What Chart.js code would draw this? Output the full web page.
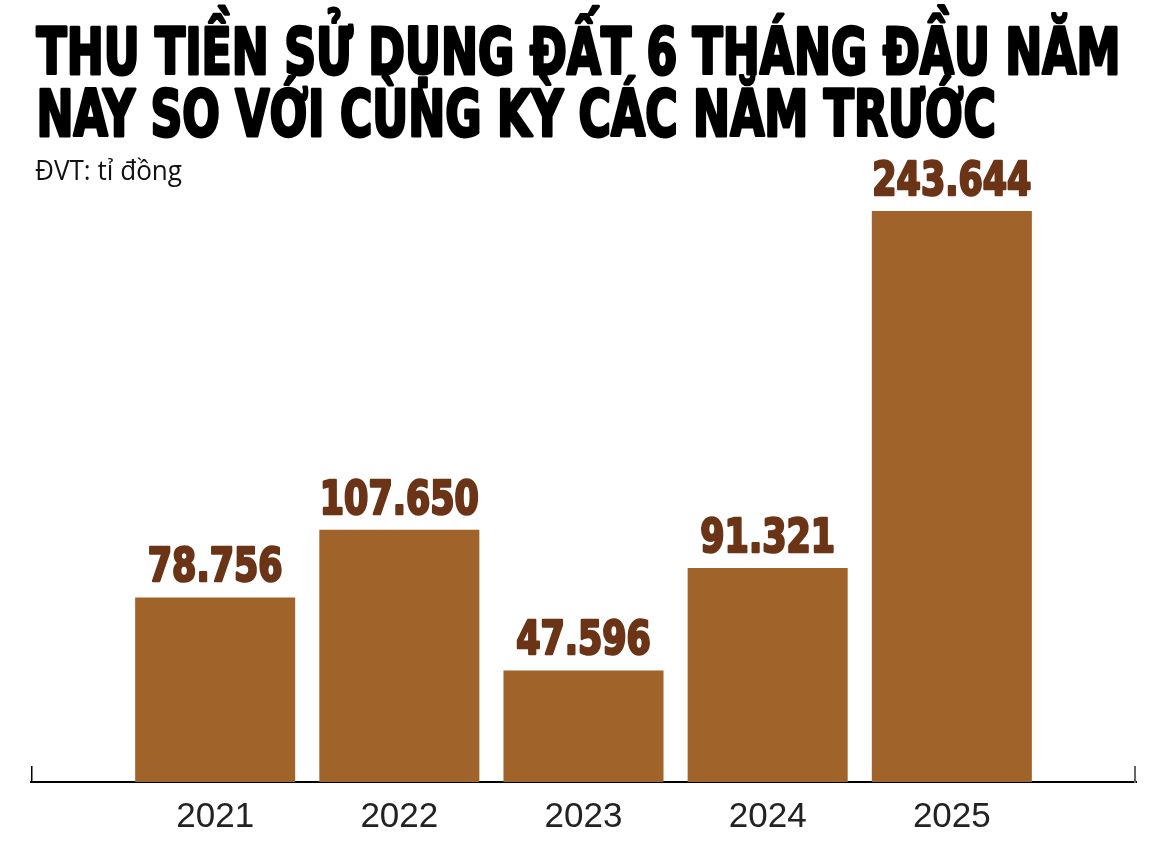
<!DOCTYPE html>
<html>
<head>
<meta charset="utf-8">
<script src="https://cdn.jsdelivr.net/npm/chart.js@4"></script>
<style>
html,body{margin:0;padding:0;background:#fff;}
#wrap{position:relative;width:1167px;height:843px;}
</style>
</head>
<body>
<div id="wrap"><canvas id="c"></canvas></div>
<script>
const titleLines = ['THU TIỀN SỬ DỤNG ĐẤT 6 THÁNG ĐẦU NĂM', 'NAY SO VỚI CÙNG KỲ CÁC NĂM TRƯỚC'];
const subtitle = 'ĐVT: tỉ đồng';
const categories = ['2021', '2022', '2023', '2024', '2025'];
const values = [78756, 107650, 47596, 91321, 243644];

const labels = [''].concat(categories, ['']);
const data = [null].concat(values, [null]);

function fmt(v){ return String(v).replace(/\B(?=(\d{3})+(?!\d))/g, '.'); }

const HEAVY = "'Liberation Sans Narrow', 'DejaVu Sans Condensed', 'Liberation Sans', sans-serif";

function heavyText(ctx, t, x, y, sx, stroke){
  ctx.save();
  ctx.translate(x, y);
  ctx.scale(sx, 1);
  ctx.lineJoin = 'round';
  ctx.lineWidth = stroke;
  ctx.strokeStyle = ctx.fillStyle;
  ctx.strokeText(t, 0, 0);
  ctx.fillText(t, 0, 0);
  ctx.restore();
}

const decor = {
  id: 'decor',
  beforeDraw(chart){
    const ctx = chart.ctx;
    ctx.save();
    ctx.fillStyle = '#000';
    ctx.textBaseline = 'alphabetic';
    ctx.textAlign = 'left';
    ctx.font = 'bold 64px ' + HEAVY;
    const w1 = ctx.measureText(titleLines[0]).width;
    const sx = 1084 / w1;
    const bases = [74, 136];
    titleLines.forEach((t, i) => heavyText(ctx, t, 36.5, bases[i], sx, 3));
    ctx.font = "27px 'Open Sans', 'Noto Sans', sans-serif";
    const ws = ctx.measureText(subtitle).width;
    ctx.save();
    ctx.translate(35, 180);
    ctx.scale(147 / ws, 1);
    ctx.fillStyle = '#111';
    ctx.fillText(subtitle, 0, 0);
    ctx.restore();
    ctx.restore();
  },
  afterDraw(chart){
    const ctx = chart.ctx;
    const x = chart.scales.x, y = chart.scales.y;
    const y0 = y.getPixelForValue(0);
    ctx.save();
    ctx.strokeStyle = '#000';
    ctx.lineWidth = 1.5;
    ctx.beginPath();
    ctx.moveTo(x.left + 0.75, y0 - 16);
    ctx.lineTo(x.left + 0.75, y0 + 1);
    ctx.stroke();
    ctx.strokeStyle = '#666';
    ctx.lineWidth = 2;
    ctx.beginPath();
    ctx.moveTo(x.right - 1, y0 - 16);
    ctx.lineTo(x.right - 1, y0 + 1);
    ctx.stroke();
    const meta = chart.getDatasetMeta(0);
    ctx.font = 'bold 47px ' + HEAVY;
    const ref = ctx.measureText('243.644').width;
    const sx = 159 / ref;
    ctx.fillStyle = '#6B3416';
    ctx.textAlign = 'center';
    ctx.textBaseline = 'alphabetic';
    meta.data.forEach((bar, i) => {
      const v = data[i];
      if (v == null) return;
      heavyText(ctx, fmt(v), bar.x, bar.y - 16, sx, 2.5);
    });
    ctx.restore();
  }
};

new Chart(document.getElementById('c'), {
  type: 'bar',
  data: {
    labels: labels,
    datasets: [{
      data: data,
      backgroundColor: '#A0632A',
      borderWidth: 0,
      barPercentage: 0.869,
      categoryPercentage: 1
    }]
  },
  options: {
    responsive: true,
    maintainAspectRatio: false,
    animation: false,
    layout: { padding: { left: 31, right: 31, top: 79, bottom: 0 } },
    plugins: { legend: { display: false }, tooltip: { enabled: false }, title: { display: false } },
    scales: {
      x: {
        offset: false,
        grid: { display: false, drawTicks: false },
        border: { display: true, color: '#000', width: 2 },
        ticks: { color: '#222', font: { family: "'Liberation Sans', Arial, sans-serif", size: 35 }, padding: 14, maxRotation: 0, autoSkip: false },
        afterFit(scale){ scale.height = 61; }
      },
      y: {
        display: false,
        min: 0,
        max: 300000
      }
    }
  },
  plugins: [decor]
});
</script>
</body>
</html>
